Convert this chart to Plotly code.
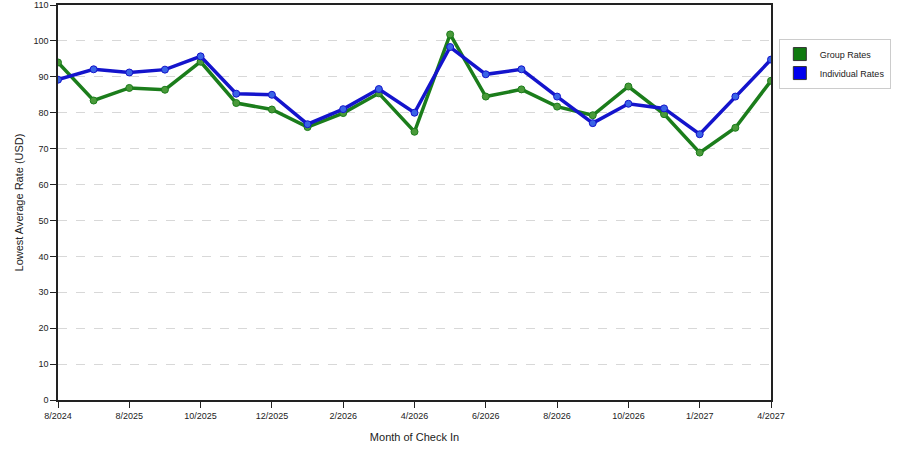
import plotly.graph_objects as go

# Lowest average rate per month of check-in
months = list(range(21))
tick_idx = [0, 2, 4, 6, 8, 10, 12, 14, 16, 18, 20]
tick_labels = ['8/2024', '8/2025', '10/2025', '12/2025', '2/2026', '4/2026',
               '6/2026', '8/2026', '10/2026', '1/2027', '4/2027']

group_rates = [94.0, 83.4, 86.9, 86.4, 94.2, 82.7, 80.9, 76.0, 79.9, 85.4, 74.7,
               101.8, 84.5, 86.5, 81.7, 79.3, 87.3, 79.6, 68.9, 75.8, 88.9]
individual_rates = [89.2, 92.1, 91.2, 92.0, 95.7, 85.3, 85.0, 76.8, 81.0, 86.6, 80.0,
                    98.3, 90.7, 92.1, 84.5, 77.1, 82.5, 81.2, 74.0, 84.5, 94.8]

fig = go.Figure()

series = [
    ('Group Rates', group_rates, '#1b7d1b', '#4a9a3a', '#0f7a0f'),
    ('Individual Rates', individual_rates, '#1414cc', '#3a64e6', '#0000ee'),
]

for name, vals, line_col, mark_col, legend_col in series:
    fig.add_trace(go.Scatter(
        x=months, y=vals, mode='lines+markers', name=name, showlegend=False,
        line=dict(color=line_col, width=3.5),
        marker=dict(color=mark_col, size=7, line=dict(color=line_col, width=1)),
    ))

# legend entries drawn as plain squares like the original
for name, vals, line_col, mark_col, legend_col in series:
    fig.add_trace(go.Scatter(
        x=[None], y=[None], mode='markers', name=name,
        marker=dict(symbol='square', size=13, color=legend_col,
                    line=dict(color='#333333', width=1)),
    ))

fig.update_layout(
    width=900, height=450,
    margin=dict(l=58, r=129, t=5, b=50),
    paper_bgcolor='white', plot_bgcolor='white',
    font=dict(family='Liberation Sans, Arial, sans-serif', size=9, color='#222222'),
    legend=dict(x=1.011, y=0.915, xanchor='left', yanchor='top',
                bordercolor='#cccccc', borderwidth=1, bgcolor='white',
                font=dict(size=9), tracegroupgap=2),
)

fig.update_xaxes(
    range=[0, 20], tickmode='array', tickvals=tick_idx, ticktext=tick_labels,
    ticks='outside', ticklen=6, tickcolor='#222222', automargin=False,
    showgrid=False, zeroline=False,
    showline=True, linecolor='#222222', linewidth=1.5, mirror=True,
    title=dict(text='Month of Check In', standoff=14),
)

fig.update_yaxes(
    range=[0, 110], dtick=10, ticks='outside', ticklen=6, tickcolor='#222222',
    automargin=False,
    showgrid=True, gridcolor='#d8d8d8', griddash='dash', gridwidth=1,
    zeroline=False,
    showline=True, linecolor='#222222', linewidth=1.5, mirror=True,
    title=dict(text='Lowest Average Rate (USD)', standoff=8),
)

# page body has a default 8px margin; drop it so the chart sits at the corner
fig.write_html("out.html", config={'displayModeBar': False},
               post_script="document.body.style.margin='0';")
